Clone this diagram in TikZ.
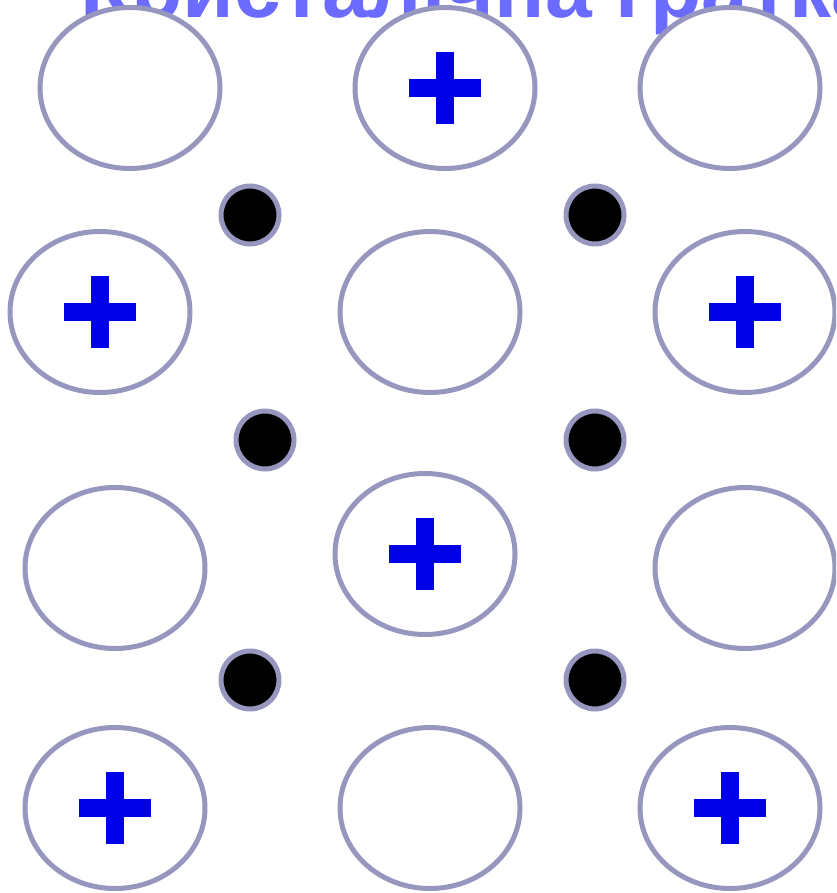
\documentclass[tikz,border=0pt]{standalone}
\usepackage{fontspec}
\setmainfont{Liberation Sans}
\definecolor{ringc}{HTML}{9696BE}
\definecolor{titlec}{HTML}{6B6BFF}
\definecolor{plusc}{HTML}{0000E6}
\begin{document}
\begin{tikzpicture}[x=1pt,y=-1pt,
  atom/.style={draw=ringc,line width=5pt,fill=white},
  electron/.style={circle,draw=ringc,line width=5pt,fill=black,minimum size=58pt,inner sep=0pt},
  ion/.style={fill=plusc}]
\useasboundingbox (0,0) rectangle (836,893);
\clip (0,0) rectangle (836,893);
\node[anchor=base west,inner sep=0pt,text=titlec,font=\bfseries\fontsize{84}{84}\selectfont] (title) at (80,18) {Кристалічна гратка};
% atoms
\foreach \n/\x/\y in {a1/130/88,a2/445/88,a3/730/88,
                      b1/100/312,b2/430/312,b3/745/312,
                      c1/115/568,c2/425/554,c3/745/568,
                      d1/115/808,d2/430/808,d3/730/808}{
  \draw[atom] (\x,\y) ellipse [x radius=90,y radius=80.5];
  \coordinate (\n) at (\x,\y);
}
% plus signs
\foreach \p in {a2,b1,b3,c2,d1,d3}{
  \fill[ion] ([shift={(-9,-36)}]\p) rectangle ([shift={(9,36)}]\p);
  \fill[ion] ([shift={(-36,-9)}]\p) rectangle ([shift={(36,9)}]\p);
}
% electrons
\node[electron] (e1) at (250,215) {};
\node[electron] (e2) at (595,215) {};
\node[electron] (e3) at (265,440) {};
\node[electron] (e4) at (595,440) {};
\node[electron] (e5) at (250,680) {};
\node[electron] (e6) at (595,680) {};
\end{tikzpicture}
\end{document}
